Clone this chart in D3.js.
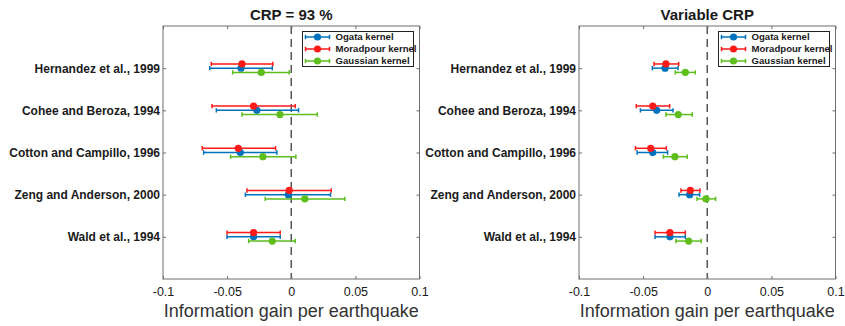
<!DOCTYPE html>
<html>
<head>
<meta charset="utf-8">
<script src="https://cdn.jsdelivr.net/npm/d3@7"></script>
<style>
  body { margin: 0; background: #fff; }
  svg { display: block; font-family: "Liberation Sans", Arial, Helvetica, sans-serif; }
</style>
</head>
<body>
<svg id="chart" width="845" height="326"></svg>
<script>
// Catalogues, top to bottom
const categories = [
  "Hernandez et al., 1999",
  "Cohee and Beroza, 1994",
  "Cotton and Campillo, 1996",
  "Zeng and Anderson, 2000",
  "Wald et al., 1994"
];

const seriesNames = ["Ogata kernel", "Moradpour kernel", "Gaussian kernel"];
const seriesColors = ["#0072BD", "#FF1A1A", "#5DBE1C"];

// Information gain per earthquake: [lower, mean, upper] for each catalogue
// Panel 1: CRP = 93 %
const crp93Ogata = [
  [-0.0636, -0.0392, -0.0148],
  [-0.0584, -0.0268, 0.0057],
  [-0.0683, -0.0397, -0.0112],
  [-0.0358, -0.0023, 0.0306],
  [-0.0501, -0.0294, -0.0086]
];
const crp93Moradpour = [
  [-0.0623, -0.0384, -0.0143],
  [-0.0618, -0.0294, 0.0031],
  [-0.0694, -0.0413, -0.0122],
  [-0.0345, -0.0016, 0.0312],
  [-0.0501, -0.0294, -0.0086]
];
const crp93Gaussian = [
  [-0.0457, -0.0234, -0.0016],
  [-0.0384, -0.0088, 0.0203],
  [-0.0473, -0.0221, 0.0036],
  [-0.0203, 0.0106, 0.0418],
  [-0.0332, -0.0148, 0.0031]
];

// Panel 2: variable CRP
const varOgata = [
  [-0.0428, -0.0329, -0.0228],
  [-0.0521, -0.0394, -0.0267],
  [-0.0547, -0.0425, -0.0309],
  [-0.0220, -0.0137, -0.0060],
  [-0.0407, -0.0291, -0.0171]
];
const varMoradpour = [
  [-0.0415, -0.0322, -0.0223],
  [-0.0553, -0.0425, -0.0293],
  [-0.0560, -0.0441, -0.0319],
  [-0.0205, -0.0132, -0.0057],
  [-0.0407, -0.0291, -0.0171]
];
const varGaussian = [
  [-0.0249, -0.0171, -0.0093],
  [-0.0322, -0.0226, -0.0117],
  [-0.0342, -0.0252, -0.0156],
  [-0.0080, -0.0010, 0.0065],
  [-0.0244, -0.0145, -0.0047]
];

const xTicks = [-0.1, -0.05, 0, 0.05, 0.1];
const xTickLabels = ["-0.1", "-0.05", "0", "0.05", "0.1"];
const xDomain = [-0.1, 0.1];
const xLabel = "Information gain per earthquake";

// Vertical offset of each series around its catalogue row (in row units)
const seriesOffsets = [0, -0.1, 0.1];

const panels = [
  { title: "CRP = 93 %", series: [crp93Ogata, crp93Moradpour, crp93Gaussian], left: 163, right: 419.5 },
  { title: "Variable CRP", series: [varOgata, varMoradpour, varGaussian], left: 579, right: 835.5 }
];

const plotTop = 26, plotBottom = 279;
const axisColor = "#6e6e6e";
const textColor = "#1a1a1a";

const svg = d3.select("#chart");

panels.forEach(p => {
  const g = svg.append("g");
  const x = d3.scaleLinear().domain(xDomain).range([p.left, p.right]);
  const y = d3.scaleLinear().domain([0, categories.length + 1]).range([plotTop, plotBottom]);

  // Zero reference line
  g.append("line")
    .attr("x1", x(0)).attr("x2", x(0))
    .attr("y1", plotTop).attr("y2", plotBottom)
    .attr("stroke", "#555").attr("stroke-width", 1.5)
    .attr("stroke-dasharray", "8,5");

  // Error bars and means
  p.series.forEach((vals, si) => {
    const color = seriesColors[si];
    const sg = g.append("g");
    vals.forEach((v, ci) => {
      const yy = y(ci + 1 + seriesOffsets[si]);
      sg.append("line")
        .attr("x1", x(v[0])).attr("x2", x(v[2]))
        .attr("y1", yy).attr("y2", yy)
        .attr("stroke", color).attr("stroke-width", 1.5);
      [v[0], v[2]].forEach(e => {
        sg.append("line")
          .attr("x1", x(e)).attr("x2", x(e))
          .attr("y1", yy - 2.2).attr("y2", yy + 2.2)
          .attr("stroke", color).attr("stroke-width", 1.5);
      });
      sg.append("circle")
        .attr("cx", x(v[1])).attr("cy", yy).attr("r", 3.6)
        .attr("fill", color);
    });
  });

  // Axis box
  g.append("rect")
    .attr("x", p.left).attr("y", plotTop)
    .attr("width", p.right - p.left).attr("height", plotBottom - plotTop)
    .attr("fill", "none").attr("stroke", axisColor).attr("stroke-width", 1);

  // Bottom axis
  const xAxis = d3.axisBottom(x).tickValues(xTicks)
    .tickFormat((d, i) => xTickLabels[i]).tickSizeInner(-3).tickSizeOuter(0).tickPadding(8);
  const ax = g.append("g").attr("transform", `translate(0,${plotBottom})`).call(xAxis);
  ax.select(".domain").remove();
  ax.selectAll(".tick line").attr("stroke", axisColor);
  ax.selectAll(".tick text").attr("fill", textColor).style("font-size", "12.5px")
    .attr("font-family", "'Liberation Sans', Arial, sans-serif");

  // Top ticks
  const axTop = g.append("g").attr("transform", `translate(0,${plotTop})`)
    .call(d3.axisTop(x).tickValues(xTicks).tickSizeInner(-3).tickSizeOuter(0).tickFormat(""));
  axTop.select(".domain").remove();
  axTop.selectAll(".tick line").attr("stroke", axisColor);

  // Left axis with catalogue names
  const yAxis = d3.axisLeft(y).tickValues(d3.range(1, categories.length + 1))
    .tickFormat(d => categories[d - 1]).tickSizeInner(-3).tickSizeOuter(0).tickPadding(3);
  const ay = g.append("g").attr("transform", `translate(${p.left},0)`).call(yAxis);
  ay.select(".domain").remove();
  ay.selectAll(".tick line").attr("stroke", axisColor);
  ay.selectAll(".tick text").attr("fill", textColor)
    .style("font-size", "12px").style("font-weight", "bold")
    .attr("font-family", "'Liberation Sans', Arial, sans-serif");

  // Right ticks
  const ayr = g.append("g").attr("transform", `translate(${p.right},0)`)
    .call(d3.axisRight(y).tickValues(d3.range(1, categories.length + 1))
      .tickSizeInner(-3).tickSizeOuter(0).tickFormat(""));
  ayr.select(".domain").remove();
  ayr.selectAll(".tick line").attr("stroke", axisColor);

  // Title
  g.append("text")
    .attr("x", (p.left + p.right) / 2).attr("y", 20)
    .attr("text-anchor", "middle")
    .style("font-size", "15px").style("font-weight", "bold")
    .attr("fill", textColor)
    .text(p.title);

  // X axis label
  g.append("text")
    .attr("x", (p.left + p.right) / 2).attr("y", 317)
    .attr("text-anchor", "middle")
    .style("font-size", "18px")
    .attr("fill", "#333")
    .text(xLabel);

  // Legend
  const lgX = p.right - 117, lgY = 31.5, lgW = 111, lgH = 35;
  const lg = g.append("g");
  lg.append("rect")
    .attr("x", lgX).attr("y", lgY).attr("width", lgW).attr("height", lgH)
    .attr("fill", "#fff").attr("stroke", "#222").attr("stroke-width", 1);
  seriesNames.forEach((name, i) => {
    const ly = lgY + 5.5 + i * 12;
    const c = seriesColors[i];
    lg.append("line")
      .attr("x1", lgX + 3).attr("x2", lgX + 27)
      .attr("y1", ly).attr("y2", ly)
      .attr("stroke", c).attr("stroke-width", 1.5);
    [lgX + 3, lgX + 27].forEach(cx => {
      lg.append("line").attr("x1", cx).attr("x2", cx)
        .attr("y1", ly - 2.2).attr("y2", ly + 2.2)
        .attr("stroke", c).attr("stroke-width", 1.5);
    });
    lg.append("circle").attr("cx", lgX + 15).attr("cy", ly).attr("r", 3.6).attr("fill", c);
    lg.append("text")
      .attr("x", lgX + 33).attr("y", ly + 3.4)
      .style("font-size", "9.6px").style("font-weight", "bold")
      .attr("fill", textColor)
      .text(name);
  });
});
</script>
</body>
</html>
